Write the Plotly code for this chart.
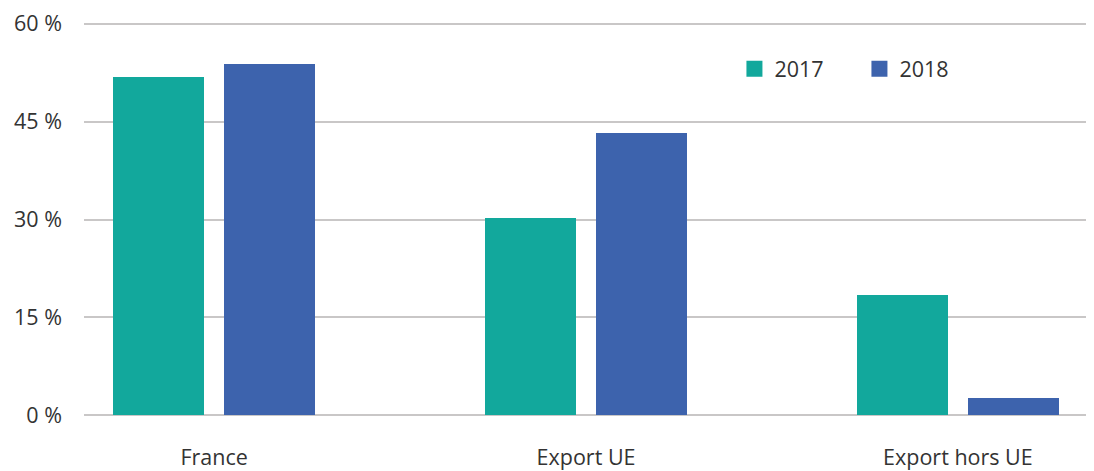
import plotly.graph_objects as go

categories = ["France", "Export UE", "Export hors UE"]
years = ["2017", "2018"]
values_2017 = [51.8, 30.2, 18.5]
values_2018 = [53.8, 43.3, 2.7]
tick_vals = [0, 15, 30, 45, 60]
tick_text = ["0 %", "15 %", "30 %", "45 %", "60 %"]

colors = ["#12a89c", "#3d63ad"]
font_family = "'Open Sans', Lato, sans-serif"
text_color = "#333333"
fsize = 21.5

fig = go.Figure()
fig.add_trace(go.Bar(x=categories, y=values_2017, name=years[0], showlegend=False,
                     marker=dict(color=colors[0], line=dict(width=0)),
                     width=0.245, offset=-0.272))
fig.add_trace(go.Bar(x=categories, y=values_2018, name=years[1], showlegend=False,
                     marker=dict(color=colors[1], line=dict(width=0)),
                     width=0.245, offset=0.027))
# legend entries with square swatches
for yr, c in zip(years, colors):
    fig.add_trace(go.Scatter(x=[None], y=[None], mode="markers", name=yr,
                             marker=dict(symbol="square", size=16, color=c)))

# the page has an 8px body margin, so the figure is sized to fit the window
fig.update_layout(
    width=1086, height=463,
    margin=dict(l=76, r=0, t=7, b=47),
    plot_bgcolor="white", paper_bgcolor="white",
    font=dict(family=font_family, size=fsize, color=text_color),
    showlegend=True,
    legend=dict(orientation="h", x=0.644, y=0.872, xanchor="left", yanchor="middle",
                font=dict(size=fsize, color=text_color), entrywidth=80, entrywidthmode="pixels",
                itemwidth=30, traceorder="normal", bgcolor="rgba(0,0,0,0)"),
    bargap=0,
)
fig.update_xaxes(type="category", range=[-0.35, 2.366], showgrid=False, showline=False,
                 ticks="", ticklabelstandoff=20, tickfont=dict(size=fsize, color=text_color))
fig.update_yaxes(range=[-1, 61], tickvals=tick_vals, ticktext=tick_text,
                 showgrid=True, gridcolor="#c9c7c7", gridwidth=2, zeroline=False,
                 showline=False, ticks="", ticklabelstandoff=21, ticklabeloverflow="allow",
                 tickfont=dict(size=fsize, color=text_color))

fig.write_html("out.html")
